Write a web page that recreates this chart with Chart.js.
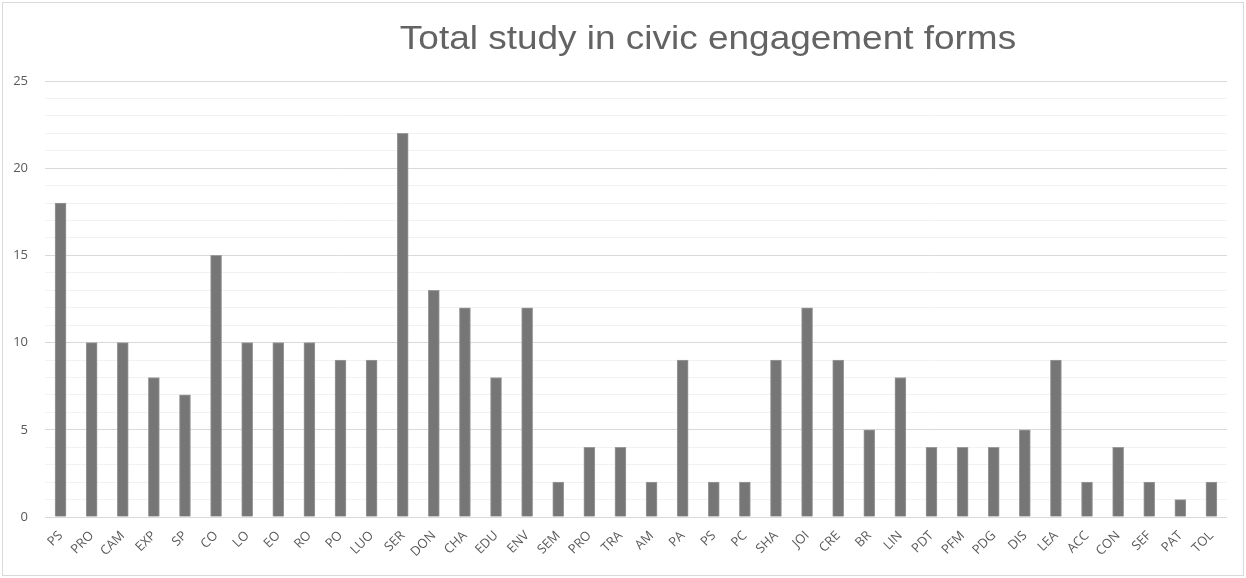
<!DOCTYPE html>
<html>
<head>
<meta charset="utf-8">
<script src="https://cdn.jsdelivr.net/npm/chart.js@4"></script>
<style>
  body { margin: 0; background: #fff; }
  #box { position: relative; width: 1246px; height: 578px; }
</style>
</head>
<body>
<div id="box"><canvas id="grafico"></canvas></div>
<script>
// categorias e valores
const categorias = ["PS", "PRO", "CAM", "EXP", "SP", "CO", "LO", "EO", "RO", "PO", "LUO", "SER",
  "DON", "CHA", "EDU", "ENV", "SEM", "PRO", "TRA", "AM", "PA", "PS", "PC", "SHA", "JOI", "CRE",
  "BR", "LIN", "PDT", "PFM", "PDG", "DIS", "LEA", "ACC", "CON", "SEF", "PAT", "TOL"];
const valores = [18, 10, 10, 8, 7, 15, 10, 10, 10, 9, 9, 22,
  13, 12, 8, 12, 2, 4, 4, 2, 9, 2, 2, 9, 12, 9,
  5, 8, 4, 4, 4, 5, 9, 2, 4, 2, 1, 2];
const titulo = "Total study in civic engagement forms";

// título deslocado (um pouco esticado) e moldura, como no original
const extras = {
  id: "extras",
  afterDraw(chart) {
    const ctx = chart.ctx;
    ctx.save();
    ctx.strokeStyle = "#d9d9d9";
    ctx.lineWidth = 1;
    ctx.strokeRect(2.5, 2.5, chart.width - 5, chart.height - 5);
    ctx.fillStyle = "#636363";
    ctx.font = "33px 'Liberation Sans', Arial, sans-serif";
    ctx.textAlign = "center";
    ctx.textBaseline = "alphabetic";
    ctx.translate(708, 49);
    ctx.scale(1.12, 1);
    ctx.fillText(titulo, 0, 0);
    ctx.restore();
  }
};

new Chart(document.getElementById("grafico"), {
  type: "bar",
  data: {
    labels: categorias,
    datasets: [{
      data: valores,
      backgroundColor: "#767676",
      borderColor: "#9a9a9a",
      borderWidth: 1,
      barThickness: 11
    }]
  },
  options: {
    responsive: true,
    maintainAspectRatio: false,
    animation: false,
    layout: { padding: { top: 81, right: 19, left: 0, bottom: 0 } },
    plugins: { legend: { display: false }, tooltip: { enabled: false } },
    scales: {
      x: {
        grid: { display: false },
        border: { display: false },
        ticks: {
          autoSkip: false,
          minRotation: 45,
          maxRotation: 45,
          padding: 3,
          color: "#595959",
          font: { family: "'Open Sans', sans-serif", size: 13 }
        },
        afterFit(scale) { scale.height = 61; }
      },
      y: {
        min: 0,
        max: 25,
        border: { display: false },
        grid: {
          drawTicks: false,
          color: (c) => (c.tick && c.tick.value % 5 === 0) ? "#d9d9d9" : "#f2f2f2"
        },
        ticks: {
          stepSize: 1,
          autoSkip: false,
          padding: 17,
          color: "#595959",
          font: { family: "'Open Sans', sans-serif", size: 13 },
          callback: (v) => (v % 5 === 0 ? v : "")
        },
        afterFit(scale) { scale.width = 45; }
      }
    }
  },
  plugins: [extras]
});
</script>
</body>
</html>
